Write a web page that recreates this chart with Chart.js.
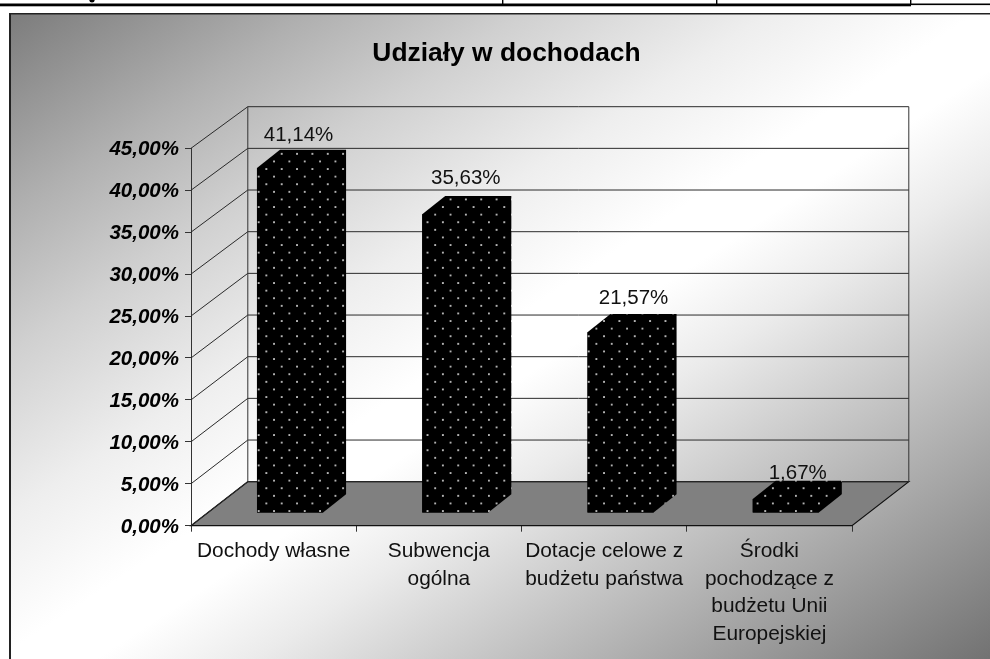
<!DOCTYPE html>
<html lang="pl">
<head>
<meta charset="utf-8">
<title>Udziały w dochodach</title>
<script src="https://cdn.jsdelivr.net/npm/chart.js@4"></script>
<style>
html,body{margin:0;padding:0;background:#fff;overflow:hidden}
canvas{display:block}
</style>
</head>
<body>
<canvas id="c" width="990" height="659"></canvas>
<script>
const titleText = 'Udziały w dochodach';
const categories = [
  'Dochody własne',
  ['Subwencja', 'ogólna'],
  ['Dotacje celowe z', 'budżetu państwa'],
  ['Środki', 'pochodzące z', 'budżetu Unii', 'Europejskiej']
];
const shares = [41.14, 35.63, 21.57, 1.67];
const tickStep = 5;
const axisMax = 45;

const FONT = '"Liberation Sans", Arial, sans-serif';
const fmt = v => v.toFixed(2).replace('.', ',') + '%';

const canvas = document.getElementById('c');
const ctx = canvas.getContext('2d');

/* geometry of the pseudo-3D box, in px */
const WALL = {dx: 56.8, dy: -44, shrink: 0.9936};
const BAR_SHIFT = {x: 16.4, y: -12.6};
const BAR_DEPTH = {x: 23, y: -18.3};
const LABEL_NUDGE = [[8.5, -14.5], [10.5, -17.5], [13, -16], [12, -7.5]];

/* dotted fill */
function dotPattern() {
  const t = document.createElement('canvas');
  t.width = 16; t.height = 16;
  const g = t.getContext('2d');
  g.fillStyle = '#000';
  g.fillRect(0, 0, 16, 16);
  g.fillStyle = '#ffffff';
  [[4, 4], [12, 12]].forEach(p => {
    g.beginPath(); g.arc(p[0], p[1], 0.95, 0, Math.PI * 2); g.fill();
  });
  const pat = ctx.createPattern(t, 'repeat');
  const sx = 15.35 / 16, sy = 15.2 / 16;
  pat.setTransform(new DOMMatrix()
    .translate(274 - BAR_SHIFT.x - 4 * sx, 435 - BAR_SHIFT.y - 4 * sy)
    .scale(sx, sy));
  return pat;
}
const dots = dotPattern();

const scene = {
  id: 'scene',
  afterLayout(chart) {
    /* tick labels overhang the narrow axis box: widen its clip area */
    chart.scales.y.left = 0;
  },
  beforeDraw(chart) {
    const c = chart.ctx;
    c.save();
    c.fillStyle = '#fff';
    c.fillRect(0, 0, 990, 659);
    /* diagonal background */
    const X = 10, Y = 14, W = 985, H = 650;
    const L = Math.hypot(W, H), nx = H / L, ny = W / L;
    const t = (W / 2) * nx + (H / 2) * ny;
    const cx = X + W / 2, cy = Y + H / 2;
    const g = c.createLinearGradient(cx - nx * t, cy - ny * t, cx + nx * t, cy + ny * t);
    g.addColorStop(0, '#7c7c7c');
    g.addColorStop(0.153, '#b0b0b0');
    g.addColorStop(0.26, '#d0d0d0');
    g.addColorStop(0.385, '#eeeeee');
    g.addColorStop(0.49, '#ffffff');
    g.addColorStop(0.54, '#ffffff');
    g.addColorStop(0.62, '#ebebeb');
    g.addColorStop(1, '#707070');
    c.fillStyle = g;
    c.fillRect(X, Y, 990 - X, 659 - Y);
    /* frame of the chart object */
    c.fillStyle = '#222';
    c.fillRect(9, 13, 981, 1.5);
    c.fillRect(9, 13, 2, 646);
    /* strip of the table above */
    c.fillStyle = '#000';
    c.fillRect(0, 3.5, 911, 2.8);
    c.fillRect(911, 3.5, 79, 1.6);
    c.fillRect(502, 0, 1.4, 4);
    c.fillRect(716, 0, 1.4, 4);
    c.fillRect(910, 0, 1.4, 5);
    c.beginPath(); c.ellipse(92, 0.5, 2.6, 2, 0, 0, Math.PI * 2); c.fill();
    c.restore();
  },
  beforeDatasetsDraw(chart) {
    const c = chart.ctx, a = chart.chartArea, y = chart.scales.y;
    const backY = py => a.bottom + WALL.dy - (a.bottom - py) * WALL.shrink;
    const bl = a.left + WALL.dx, br = a.right + WALL.dx;
    c.save();
    /* floor */
    c.fillStyle = '#808080';
    c.beginPath();
    c.moveTo(a.left, a.bottom);
    c.lineTo(a.right, a.bottom);
    c.lineTo(br, backY(a.bottom));
    c.lineTo(bl, backY(a.bottom));
    c.closePath();
    c.fill();
    c.lineWidth = 1.2;
    c.strokeStyle = '#111';
    c.stroke();
    /* grid on both walls */
    c.lineWidth = 1;
    y.ticks.forEach(tk => {
      const py = y.getPixelForValue(tk.value), by = backY(py);
      c.strokeStyle = '#2a2a2a';
      c.beginPath();
      c.moveTo(a.left, py);
      c.lineTo(bl, by);
      c.lineTo(br, by);
      c.stroke();
    });
    /* wall edges */
    c.strokeStyle = '#333';
    c.beginPath();
    c.moveTo(bl, backY(a.top)); c.lineTo(bl, backY(a.bottom));
    c.moveTo(br, backY(a.top)); c.lineTo(br, backY(a.bottom));
    c.stroke();
    c.restore();
    /* bars sit inside the box: everything of the datasets is shifted */
    c.save();
    c.translate(BAR_SHIFT.x, BAR_SHIFT.y);
    chart.getDatasetMeta(0).data.forEach(el => {
      const p = el.getProps(['x', 'y', 'base', 'width'], true);
      const l = p.x - p.width / 2, r = p.x + p.width / 2;
      c.fillStyle = dots;
      c.beginPath();
      c.moveTo(l, p.y);
      c.lineTo(l + BAR_DEPTH.x, p.y + BAR_DEPTH.y);
      c.lineTo(r + BAR_DEPTH.x, p.y + BAR_DEPTH.y);
      c.lineTo(r + BAR_DEPTH.x, p.base + BAR_DEPTH.y);
      c.lineTo(r, p.base);
      c.lineTo(l, p.base);
      c.closePath();
      c.fill();
    });
  },
  afterDatasetsDraw(chart) {
    const c = chart.ctx;
    c.restore();
    c.save();
    c.font = '20.5px ' + FONT;
    c.fillStyle = '#111';
    c.textAlign = 'center';
    c.textBaseline = 'middle';
    chart.getDatasetMeta(0).data.forEach((el, i) => {
      const p = el.getProps(['x', 'y'], true);
      c.fillText(fmt(shares[i]),
        p.x + BAR_SHIFT.x + LABEL_NUDGE[i][0],
        p.y + BAR_SHIFT.y + BAR_DEPTH.y + LABEL_NUDGE[i][1]);
    });
    c.restore();
  }
};

new Chart(ctx, {
  type: 'bar',
  data: {
    labels: categories,
    datasets: [{
      data: shares,
      backgroundColor: dots,
      borderWidth: 0,
      barPercentage: 0.4,
      categoryPercentage: 1,
      clip: false
    }]
  },
  plugins: [scene],
  options: {
    responsive: false,
    animation: false,
    events: [],
    devicePixelRatio: 1,
    layout: {padding: {left: 161, right: 138, top: 0, bottom: 3.3}},
    plugins: {
      legend: {display: false},
      tooltip: {enabled: false},
      title: {
        display: true,
        text: titleText,
        fullSize: true,
        color: '#000',
        font: {family: FONT, size: 26.4, weight: 'bold', lineHeight: 1.2},
        padding: {top: 37.7, bottom: 78.9}
      }
    },
    scales: {
      x: {
        type: 'category',
        offset: true,
        afterFit(s) { s.height = 130; },
        grid: {drawOnChartArea: false, drawTicks: true, tickLength: 6, color: '#333'},
        border: {display: true, color: '#111', width: 1},
        ticks: {
          autoSkip: false, maxRotation: 0, minRotation: 0, padding: 6.3,
          color: '#111',
          font: {family: FONT, size: 20.9, lineHeight: 1.31}
        }
      },
      y: {
        min: 0,
        max: axisMax,
        afterFit(s) { s.width = 30; },
        grid: {drawOnChartArea: false, drawTicks: true, tickLength: 6, color: '#333'},
        border: {display: true, color: '#333', width: 1},
        ticks: {
          stepSize: tickStep,
          padding: 6,
          color: '#000',
          callback: v => ['', fmt(v)],
          font: {family: FONT, size: 20.5, weight: 'bold', style: 'italic', lineHeight: '3px'}
        }
      }
    }
  }
});
</script>
</body>
</html>
